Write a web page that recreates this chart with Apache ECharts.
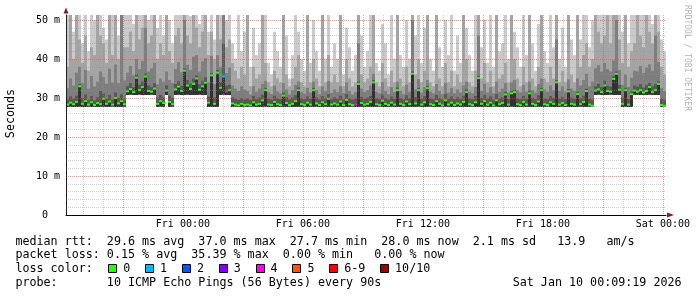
<!DOCTYPE html>
<html>
<head>
<meta charset="utf-8">
<title>SmokePing</title>
<script src="https://cdn.jsdelivr.net/npm/echarts@6.0.0/dist/echarts.min.js"></script>
<style>
html,body{margin:0;padding:0;background:#ffffff;}
#chart{width:697px;height:297px;}
</style>
</head>
<body>
<div id="chart"></div>
<script>
// ---------------- data ----------------
// time axis: minutes relative to Fri 00:00 ; graph spans Thu 18:09:19 .. Sat 00:09:19
const startMinute = -350.683;
const endMinute = 1449.317;
const stepMinutes = 9;

// lowest ping (ms)
const floorMs = [
27.7,27.8,27.7,27.7,27.8,27.7,27.7,27.8,27.7,27.7,
27.7,27.7,27.8,27.7,27.7,27.8,27.7,27.7,27.7,27.8,
30.8,30.9,30.8,30.8,30.9,30.8,30.8,30.8,30.9,30.8,
27.7,27.8,27.7,30.8,27.7,27.8,30.8,30.9,30.8,30.8,
30.9,30.8,30.8,30.8,30.9,30.8,30.8,27.7,27.8,27.7,
27.7,30.8,30.9,30.8,30.8,27.7,27.8,27.7,27.7,27.8,
27.7,27.7,27.8,27.7,27.7,27.7,27.8,27.7,27.7,27.7,
27.8,27.7,27.7,27.7,27.8,27.7,27.7,27.7,27.7,27.8,
27.7,27.7,27.7,27.8,27.7,27.7,27.8,27.7,27.7,27.7,
27.7,27.8,27.7,27.7,27.7,27.8,27.7,27.7,27.7,27.7,
27.8,27.7,27.7,27.7,27.8,27.7,27.7,27.7,27.8,27.7,
27.7,27.7,27.8,27.7,27.7,27.7,27.7,27.8,27.7,27.7,
27.7,27.8,27.7,27.7,27.7,27.7,27.8,27.7,27.7,27.7,
27.8,27.7,27.7,27.7,27.7,27.8,27.7,27.7,27.7,27.8,
27.7,27.7,27.7,27.8,27.7,27.7,27.7,27.7,27.8,27.7,
27.7,27.7,27.8,27.7,27.7,27.7,27.8,27.7,27.7,27.7,
27.8,27.7,27.7,27.7,27.7,27.8,27.7,27.7,27.7,27.7,
27.7,27.8,27.7,27.7,27.8,27.7,30.8,30.9,30.8,30.8,
30.8,30.9,30.8,30.8,30.8,27.7,27.8,27.7,27.7,30.8,
30.9,30.8,30.8,30.8,30.9,30.8,30.8,30.8,27.7,27.8
];

// median rtt (ms)
const medianMs = [
28.3,28.8,28.4,29.0,33.0,28.5,29.2,28.3,28.9,28.2,
28.7,28.4,29.8,28.5,29.1,28.3,30.0,28.6,29.2,28.4,
31.7,32.3,31.5,35.2,32.0,32.8,35.5,31.8,31.6,32.4,
28.5,29.2,28.7,31.9,29.0,28.4,32.2,32.9,31.8,37.0,
33.2,32.3,33.6,35.0,32.1,33.0,33.9,28.8,35.8,28.5,
36.5,32.6,35.5,31.6,32.0,28.6,28.3,28.1,28.5,28.2,
28.3,28.1,28.9,28.3,28.5,29.4,32.0,28.3,28.2,29.0,
28.4,28.2,30.6,28.7,28.2,28.5,29.2,32.0,28.4,28.2,
28.8,28.3,32.0,28.6,28.2,28.9,28.4,29.8,28.3,28.6,
28.3,29.1,28.2,29.5,28.4,28.2,28.3,33.6,28.7,28.3,
28.5,29.0,34.0,28.4,28.2,29.3,28.5,28.2,28.8,28.3,
32.0,28.5,28.2,29.1,28.4,36.2,28.6,32.0,28.3,28.9,
32.5,28.4,28.2,29.2,28.5,28.1,29.4,28.3,28.8,28.2,
28.6,28.3,29.0,31.5,28.4,28.2,28.9,35.1,28.5,29.2,
28.3,28.8,28.1,29.4,28.4,28.7,30.9,28.3,31.2,31.5,
28.4,28.2,29.0,28.3,31.2,28.5,28.2,29.1,32.0,28.4,
28.2,28.9,28.5,34.0,28.3,28.7,28.2,31.7,28.5,28.3,
31.0,28.4,29.0,31.8,28.3,28.0,31.9,32.2,31.5,33.2,
31.8,31.6,34.9,36.2,32.1,28.5,32.0,28.3,31.0,31.9,
31.6,32.0,31.4,31.8,32.8,31.5,32.0,33.6,28.2,28.0
];

// number of lost pings out of 10
const lossCount = [
0,0,0,0,0,0,0,0,0,0, 0,0,0,0,0,0,0,0,0,0,
0,0,0,0,0,0,0,0,0,0, 0,0,0,0,0,0,0,0,0,0,
0,0,0,0,0,0,0,0,0,0, 0,0,1,4,0,0,0,0,0,0,
0,0,0,0,0,0,0,0,0,0, 0,0,0,0,0,0,0,0,0,0,
0,0,0,0,0,0,0,0,0,0, 0,0,0,0,0,0,4,0,0,0,
0,0,0,0,0,0,0,0,0,0, 0,0,0,0,0,0,0,0,0,0,
0,0,0,0,0,0,0,0,0,0, 0,0,0,0,0,0,0,0,0,0,
0,0,0,0,0,0,0,0,0,0, 0,0,0,0,0,0,0,0,0,0,
0,0,0,0,0,0,0,0,0,0, 0,0,0,0,0,0,0,0,0,0,
0,0,0,0,0,0,0,0,0,0, 0,0,0,0,0,0,0,0,0,0
];

// smoke: upper edges of the ping spread bands (ms), inner to outer
const smokeLow = [
29.6,30.4,29.8,30.6,33.6,30.0,30.9,29.5,30.5,29.4,
30.2,31.8,31.1,29.8,30.8,29.6,31.4,30.0,30.9,29.7,
33.0,33.8,32.8,36.0,33.4,34.2,36.3,33.2,32.8,33.8,
30.1,30.8,30.2,33.2,30.6,30.0,33.6,34.3,33.1,37.6,
34.6,33.7,35.0,35.8,33.5,34.4,35.3,30.4,36.4,30.1,
37.2,34.1,44.0,33.2,33.4,30.2,29.8,29.5,30.0,29.6,
29.9,29.5,30.5,29.7,30.1,30.8,32.6,29.8,29.6,30.6,
29.9,29.7,31.4,30.2,29.6,30.1,30.7,32.7,29.9,29.7,
30.4,29.8,32.6,30.1,29.6,30.5,29.9,31.0,29.7,30.2,
29.8,30.6,29.7,31.0,29.9,29.6,29.8,34.2,30.3,29.8,
30.1,30.5,34.6,29.9,29.7,30.9,30.0,29.6,30.4,29.8,
32.7,30.0,29.7,30.7,29.9,36.8,30.2,32.6,29.8,30.5,
33.1,29.9,29.7,30.8,30.0,29.6,31.0,29.8,30.4,29.7,
30.2,29.8,30.6,32.2,29.9,29.7,30.5,35.7,30.0,30.8,
29.8,30.4,29.6,31.0,29.9,30.2,31.6,29.8,31.8,32.1,
29.9,29.7,30.6,29.8,31.9,30.0,29.7,30.7,32.6,29.9,
29.7,30.5,30.0,34.6,29.8,30.3,29.7,32.3,30.1,29.8,
31.6,29.9,30.6,32.4,29.8,29.6,33.0,33.6,32.8,34.4,
33.1,32.9,35.6,36.8,33.4,30.1,32.6,29.8,31.7,33.2,
32.9,33.5,32.7,33.3,33.9,33.0,33.6,34.3,29.8,29.5
];
const smokeMid = [
32.5,35.0,33.2,36.5,38.0,33.8,37.2,32.4,35.6,33.0,
34.2,36.8,35.4,33.6,37.5,34.0,38.6,33.8,55.0,34.5,
36.5,38.2,35.8,40.0,37.4,39.5,48.0,36.8,37.6,39.0,
33.5,35.0,34.2,36.8,34.6,33.8,37.4,39.2,36.6,50.0,
38.5,37.2,40.6,41.0,36.8,39.4,40.2,34.0,40.8,33.6,
41.0,38.0,55.0,36.4,37.8,33.2,32.4,31.8,33.0,32.2,
31.8,30.9,33.0,31.6,32.4,33.6,34.4,31.5,31.0,33.2,
31.7,31.2,33.8,32.2,30.9,32.0,33.4,34.2,31.5,31.1,
32.6,31.4,34.2,32.0,31.0,33.0,31.7,34.4,31.3,32.2,
31.5,33.0,31.3,34.0,31.8,30.9,31.5,44.0,32.4,31.6,
32.0,33.2,36.2,31.6,31.2,34.0,31.8,31.0,32.8,31.5,
34.2,31.8,31.0,33.4,31.6,50.0,32.2,34.8,31.4,32.8,
34.6,31.6,31.2,33.6,31.8,31.0,33.8,31.4,32.6,31.2,
32.2,31.4,33.2,34.2,31.6,31.2,32.8,46.0,31.8,33.6,
31.4,32.8,31.2,34.2,31.6,32.4,33.8,31.4,34.0,34.6,
32.0,31.4,33.4,31.6,34.2,32.0,31.4,33.6,35.0,32.2,
31.6,33.2,32.0,45.0,31.8,33.0,31.6,34.8,32.4,31.8,
35.0,33.2,34.6,36.2,33.0,34.2,37.6,38.4,36.8,39.0,
37.4,36.8,39.6,50.0,37.2,33.4,36.0,32.8,35.2,37.0,
36.8,38.2,36.4,37.8,38.6,37.0,46.0,39.2,32.6,31.8
];
const smokeHi = [
38,55,40,55,45,39,46,37,43,41,
55,46,44,39,55,41,55,40,55,43,
43,47,42,55,45,48,55,44,46,55,
40,44,41,55,42,39,46,48,44,55,
46,44,55,48,43,47,55,41,47,40,
55,45,55,43,45,39,37,35,38,36,
55,33,38,35,36,55,39,34,33,37,
35,34,55,36,33,35,38,41,34,33,
55,34,40,35,33,55,34,41,34,36,
34,55,33,40,35,33,34,55,36,34,
35,38,55,34,33,39,35,33,37,34,
55,35,33,38,34,55,36,40,34,37,
55,34,33,55,35,33,39,34,37,33,
36,34,55,40,34,33,37,55,35,39,
34,37,33,55,35,36,39,34,55,40,
35,33,38,34,55,35,33,38,55,35,
34,38,35,55,34,37,34,55,36,34,
55,38,41,44,38,40,55,47,44,46,
55,44,55,55,45,39,55,38,42,44,
55,46,43,55,47,44,55,47,38,36
];
const smokeMax = [
55,55,47,55,55,44,55,42,55,50,
55,55,48,45,55,55,55,46,55,55,
55,55,49,55,55,55,55,50,55,55,
48,55,46,55,50,44,55,55,53,55,
55,51,55,55,49,55,55,47,55,45,
55,52,55,50,55,44,40,55,42,47,
55,38,48,41,44,55,52,39,36,47,
42,38,55,46,35,41,55,47,40,37,
55,39,50,42,37,55,40,55,38,44,
40,55,36,48,43,37,41,55,46,38,
42,55,55,39,37,49,44,36,55,40,
55,41,38,50,40,55,46,55,39,48,
55,40,37,55,43,38,50,41,55,37,
46,39,55,48,41,37,55,55,43,50,
39,55,38,55,42,44,52,40,55,47,
43,38,55,41,55,44,37,49,55,42,
39,55,43,55,40,48,38,55,45,41,
55,45,55,55,43,50,55,55,52,55,
55,55,55,55,54,47,55,44,55,55,
55,53,55,55,55,49,55,55,45,42
];

// axes / grid tick values
const yLabelTicks = [0, 10, 20, 30, 40, 50];
const yLabelTexts = ['0  ', '10 m', '20 m', '30 m', '40 m', '50 m'];
const yMajorTicks = [10, 20, 30, 40, 50];
const yMinorTicks = [2,4,6,8,12,14,16,18,22,24,26,28,32,34,36,38,42,44,46,48];
const xLabelTicks = [0, 360, 720, 1080, 1440];
const xLabelTexts = ['Fri 00:00', 'Fri 06:00', 'Fri 12:00', 'Fri 18:00', 'Sat 00:00'];
const xMajorTicks = [-180, 0, 180, 360, 540, 720, 900, 1080, 1260, 1440];
const xMinorTicks = [-300,-240,-120,-60,60,120,240,300,420,480,600,660,780,840,960,1020,1140,1200,1320,1380];
const yMax = 51.28;

// legend
const lossLabels = ['0', '1', '2', '3', '4', '5', '6-9', '10/10'];
const lossColors = ['#26ff00', '#00b8ff', '#0059ff', '#7e00ff', '#ff00ec', '#ff5500', '#ff0000', '#a10000'];
const statLines = [
  'median rtt:  29.6 ms avg  37.0 ms max  27.7 ms min  28.0 ms now  2.1 ms sd   13.9   am/s',
  'packet loss: 0.15 % avg  35.39 % max  0.00 % min   0.00 % now'
];
const lossTitle = 'loss color:';
const probeLine = 'probe:       10 ICMP Echo Pings (56 Bytes) every 90s';
const dateText = 'Sat Jan 10 00:09:19 2026';
const yTitle = 'Seconds';
const creditText = 'RRDTOOL / TOBI OETIKER';

// smoke layer colours (outer -> inner)
const smokeColors = ['#cacaca', '#a4a4a4', '#7e7e7e', '#585858', '#323232'];

// ---------------- chart ----------------
function lossColorIndex(n) { return n <= 5 ? n : (n < 10 ? 6 : 7); }

const seriesData = floorMs.map((f, i) => [
  startMinute + i * stepMinutes, f, medianMs[i], smokeLow[i], smokeMid[i], smokeHi[i], smokeMax[i], lossCount[i]
]);

const tickFont = { fontFamily: 'DejaVu Sans Mono', fontSize: 10, color: '#000' };

function gridX(ticks, color, z) {
  return {
    type: 'value', gridIndex: 0, min: startMinute, max: endMinute, position: 'bottom', z: z,
    axisLine: { show: false }, axisLabel: { show: false },
    axisTick: { show: false, customValues: ticks },
    splitLine: { show: true, lineStyle: { color: color, width: 1, type: [1, 1] } }
  };
}
function gridY(ticks, color, z) {
  return {
    type: 'value', gridIndex: 0, min: 0, max: yMax, position: 'left', z: z,
    axisLine: { show: false }, axisLabel: { show: false },
    axisTick: { show: false, customValues: ticks },
    splitLine: { show: true, lineStyle: { color: color, width: 1, type: [1, 1] } }
  };
}

const minorColor = 'rgba(143,143,143,0.42)';
const majorColor = 'rgba(222,79,79,0.55)';

const xAxes = [
  {
    type: 'value', gridIndex: 0, min: startMinute, max: endMinute, position: 'bottom', z: 12,
    axisLine: { show: true, onZero: false, lineStyle: { color: '#000', width: 1 } },
    axisTick: { show: false },
    splitLine: { show: false },
    axisLabel: Object.assign({ customValues: xLabelTicks, margin: 4,
      formatter: v => xLabelTexts[xLabelTicks.indexOf(v)] || '' }, tickFont)
  },
  gridX(xMinorTicks, minorColor, 6),
  gridX(xMajorTicks, majorColor, 7),
  {
    type: 'value', gridIndex: 0, min: startMinute, max: endMinute, position: 'bottom', z: 13,
    axisLine: { show: true, onZero: false, symbol: ['none', 'triangle'], symbolSize: [5, 7], symbolOffset: [0, 4.5],
      lineStyle: { color: '#7f1f1f', width: 0 } },
    axisTick: { show: false }, axisLabel: { show: false }, splitLine: { show: false }
  }
];
const yAxes = [
  {
    type: 'value', gridIndex: 0, min: 0, max: yMax, position: 'left', z: 12,
    axisLine: { show: true, onZero: false, lineStyle: { color: '#1f1f1f', width: 1 } },
    axisTick: { show: false },
    splitLine: { show: false },
    axisLabel: Object.assign({ customValues: yLabelTicks, margin: 6,
      formatter: v => yLabelTexts[yLabelTicks.indexOf(v)] || '' }, tickFont)
  },
  gridY(yMinorTicks, minorColor, 6),
  gridY(yMajorTicks, majorColor, 7),
  {
    type: 'value', gridIndex: 0, min: 0, max: yMax, position: 'left', z: 13,
    axisLine: { show: true, onZero: false, symbol: ['none', 'triangle'], symbolSize: [5, 6], symbolOffset: [0, 4.5],
      lineStyle: { color: '#7f1f1f', width: 0 } },
    axisTick: { show: false }, axisLabel: { show: false }, splitLine: { show: false }
  }
];

// text & legend graphics
const LEG_FONT = '11.7px "DejaVu Sans Mono", monospace';
const CW = 7.02;
const rowY = [241.6, 255.3, 269.0, 282.7];
const textX = 15.4;
const graphics = [];
statLines.forEach((t, k) => graphics.push({ type: 'text', x: textX, y: rowY[k],
  style: { text: t, font: LEG_FONT, fill: '#000', verticalAlign: 'middle' } }));
graphics.push({ type: 'text', x: textX, y: rowY[2], style: { text: lossTitle, font: LEG_FONT, fill: '#000', verticalAlign: 'middle' } });
let bx = 108.3;
lossLabels.forEach((lab, k) => {
  graphics.push({ type: 'rect', x: Math.round(bx) + 0.5, y: 264.5, shape: { x: 0, y: 0, width: 8, height: 8 },
    style: { fill: lossColors[k], stroke: '#000', lineWidth: 1 } });
  graphics.push({ type: 'text', x: bx + 15, y: rowY[2],
    style: { text: lab, font: LEG_FONT, fill: '#000', verticalAlign: 'middle' } });
  bx += 15.5 + lab.length * CW + 14.3;
});
graphics.push({ type: 'text', x: textX, y: rowY[3], style: { text: probeLine, font: LEG_FONT, fill: '#000', verticalAlign: 'middle' } });
graphics.push({ type: 'text', x: 512.7, y: rowY[3], style: { text: dateText, font: LEG_FONT, fill: '#000', verticalAlign: 'middle' } });
graphics.push({ type: 'text', x: 11, y: 113.5, rotation: Math.PI / 2,
  style: { text: yTitle, font: LEG_FONT, fill: '#000', align: 'center', verticalAlign: 'middle' } });
graphics.push({ type: 'text', x: 687, y: 58, rotation: -Math.PI / 2,
  style: { text: creditText, font: '8px "DejaVu Sans Mono", monospace', fill: '#b4b4b4', align: 'center', verticalAlign: 'middle' } });

const chart = echarts.init(document.getElementById('chart'), null, { renderer: 'canvas' });
chart.setOption({
  animation: false,
  backgroundColor: '#ffffff',
  grid: { left: 66, top: 15, width: 600, height: 200, containLabel: false },
  xAxis: xAxes,
  yAxis: yAxes,
  graphic: graphics,
  series: [{
    type: 'custom',
    xAxisIndex: 0, yAxisIndex: 0, z: 2, clip: true, silent: true,
    encode: { x: 0, y: 1 },
    data: seriesData,
    renderItem: function (params, api) {
      const cs = params.coordSys;
      const t0 = api.value(0);
      const xa = api.coord([t0, 0])[0];
      const xb = api.coord([t0 + stepMinutes, 0])[0];
      const Y = v => Math.max(cs.y, api.coord([t0, v])[1]);
      const yF = Y(api.value(1));
      const band = (top, color) => ({ type: 'rect',
        shape: { x: xa, y: Y(top), width: xb - xa, height: Math.max(0, yF - Y(top)) },
        style: { fill: color } });
      const med = api.value(2);
      const yM = Y(med);
      return { type: 'group', children: [
        band(api.value(6), smokeColors[0]),
        band(api.value(5), smokeColors[1]),
        band(api.value(4), smokeColors[2]),
        band(api.value(3), smokeColors[3]),
        band(med, smokeColors[4]),
        { type: 'rect', shape: { x: xa, y: yM - 1, width: xb - xa, height: 2 },
          style: { fill: lossColors[lossColorIndex(api.value(7))] } }
      ] };
    }
  }]
});
</script>
</body>
</html>
